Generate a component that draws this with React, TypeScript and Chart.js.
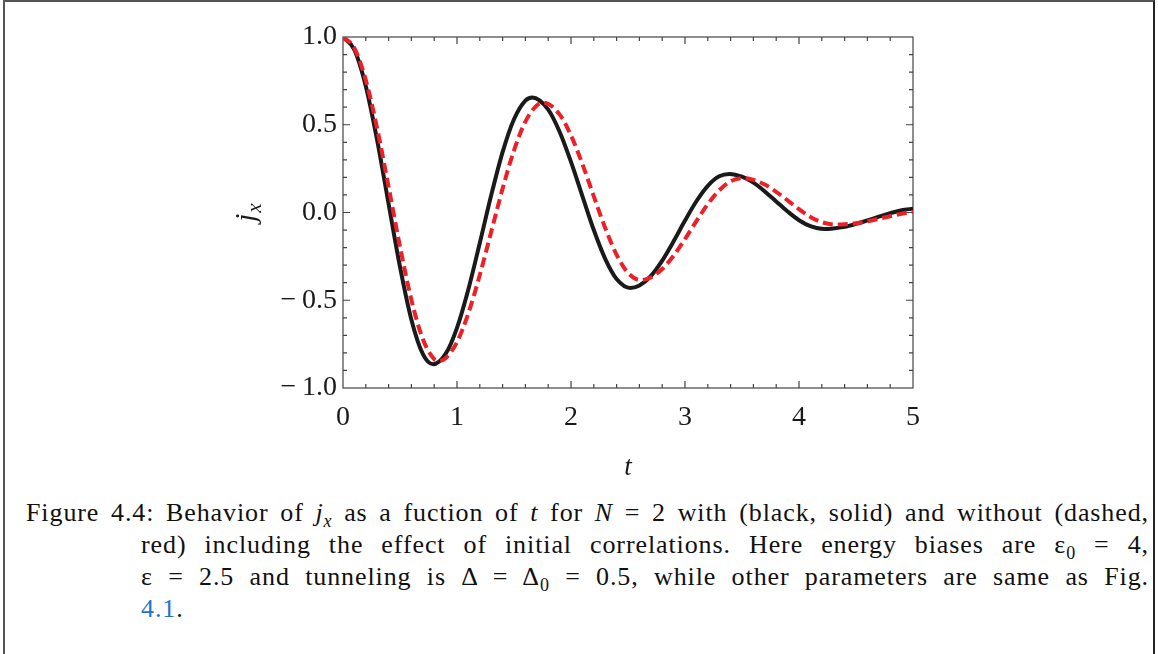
import React, { useEffect, useRef } from "react";
import { Chart, registerables } from "chart.js";

Chart.register(...registerables);

// time samples and values
const tSolid = [0, 0.1, 0.2, 0.3, 0.4, 0.5, 0.6, 0.7, 0.79, 0.9, 1.0, 1.1, 1.2, 1.3, 1.4, 1.5, 1.6, 1.66, 1.8, 1.9, 2.0, 2.1, 2.2, 2.3, 2.4, 2.52, 2.6, 2.7, 2.8, 2.9, 3.0, 3.1, 3.2, 3.3, 3.39, 3.5, 3.6, 3.7, 3.8, 3.9, 4.0, 4.1, 4.22, 4.3, 4.4, 4.5, 4.6, 4.7, 4.8, 4.9, 5.0];
const jSolid = [1.0, 0.927, 0.72, 0.411, 0.049, -0.31, -0.611, -0.806, -0.865, -0.806, -0.657, -0.437, -0.174, 0.098, 0.344, 0.531, 0.637, 0.655, 0.586, 0.46, 0.288, 0.093, -0.1, -0.264, -0.379, -0.43, -0.416, -0.362, -0.274, -0.164, -0.046, 0.064, 0.152, 0.206, 0.22, 0.204, 0.17, 0.12, 0.063, 0.006, -0.044, -0.078, -0.094, -0.091, -0.082, -0.065, -0.045, -0.024, -0.004, 0.013, 0.022];

const tDashed = [0, 0.1, 0.2, 0.3, 0.4, 0.5, 0.6, 0.7, 0.8, 0.84, 0.9, 1.0, 1.1, 1.2, 1.3, 1.4, 1.5, 1.6, 1.7, 1.76, 1.9, 2.0, 2.1, 2.2, 2.3, 2.4, 2.5, 2.61, 2.7, 2.8, 2.9, 3.0, 3.1, 3.2, 3.3, 3.4, 3.5, 3.6, 3.7, 3.8, 3.9, 4.0, 4.1, 4.2, 4.32, 4.4, 4.5, 4.6, 4.7, 4.8, 4.9, 5.0];
const jDashed = [1.0, 0.936, 0.754, 0.478, 0.146, -0.194, -0.498, -0.721, -0.835, -0.845, -0.83, -0.738, -0.574, -0.356, -0.11, 0.136, 0.354, 0.518, 0.61, 0.625, 0.559, 0.439, 0.276, 0.092, -0.088, -0.241, -0.344, -0.385, -0.37, -0.322, -0.246, -0.151, -0.049, 0.048, 0.126, 0.178, 0.196, 0.186, 0.159, 0.118, 0.069, 0.019, -0.025, -0.055, -0.069, -0.067, -0.061, -0.05, -0.036, -0.021, -0.007, 0.004];

const xTickValues = [0, 1, 2, 3, 4, 5];
const xTickLabels = ["0", "1", "2", "3", "4", "5"];
const yTickValues = [-1, -0.5, 0, 0.5, 1];
const yTickLabels = ["\u2212\u20091.0", "\u2212\u20090.5", "0.0", "0.5", "1.0"];

const SERIF = "'Liberation Serif', 'Times New Roman', serif";
const CW = 1158;
const CH = 490;

const framePlugin = {
  id: "frameTicks",
  beforeDatasetsDraw(chart: any) {
    const { ctx, chartArea } = chart;
    const xs = chart.scales.x;
    const ys = chart.scales.y;
    const { left, right, top, bottom } = chartArea;
    ctx.save();
    ctx.strokeStyle = "#444";
    ctx.lineWidth = 1.2;
    ctx.strokeRect(left, top, right - left, bottom - top);
    ctx.beginPath();
    for (let i = 1; i < 25; i++) {
      const px = xs.getPixelForValue(i * 0.2);
      const len = i % 5 === 0 ? 7 : 4;
      ctx.moveTo(px, bottom);
      ctx.lineTo(px, bottom - len);
      ctx.moveTo(px, top);
      ctx.lineTo(px, top + len);
    }
    for (let i = 1; i < 20; i++) {
      const py = ys.getPixelForValue(-1 + i * 0.1);
      const len = i % 5 === 0 ? 7 : 4;
      ctx.moveTo(left, py);
      ctx.lineTo(left + len, py);
      ctx.moveTo(right, py);
      ctx.lineTo(right - len, py);
    }
    ctx.stroke();
    ctx.restore();
  },
  afterDraw(chart: any) {
    const { ctx, chartArea } = chart;
    ctx.save();
    ctx.fillStyle = "#1a1a1a";
    ctx.font = `italic 27px ${SERIF}`;
    ctx.textAlign = "center";
    ctx.textBaseline = "alphabetic";
    ctx.fillText("t", (chartArea.left + chartArea.right) / 2, 475);
    ctx.translate(255, (chartArea.top + chartArea.bottom) / 2);
    ctx.rotate(-Math.PI / 2);
    ctx.textAlign = "left";
    ctx.font = `italic 29px ${SERIF}`;
    const jw = ctx.measureText("j").width;
    ctx.font = `italic 21px ${SERIF}`;
    const xw = ctx.measureText("x").width;
    const total = jw + 1 + xw;
    ctx.font = `italic 29px ${SERIF}`;
    ctx.fillText("j", -total / 2, 0);
    ctx.font = `italic 21px ${SERIF}`;
    ctx.fillText("x", -total / 2 + jw + 1, 6);
    ctx.restore();
  },
};

function JxChart() {
  const ref = useRef<HTMLCanvasElement | null>(null);
  useEffect(() => {
    if (!ref.current) return;
    const chart = new Chart(ref.current, {
      type: "line",
      data: {
        datasets: [
          {
            label: "without initial correlations",
            data: tDashed.map((t, i) => ({ x: t, y: jDashed[i] })),
            borderColor: "#ee1f26",
            borderWidth: 4,
            borderDash: [10, 5],
            pointRadius: 0,
            cubicInterpolationMode: "monotone",
            fill: false,
            clip: 0,
            order: 0,
          },
          {
            label: "with initial correlations",
            data: tSolid.map((t, i) => ({ x: t, y: jSolid[i] })),
            borderColor: "#1a1a1a",
            borderWidth: 4,
            pointRadius: 0,
            cubicInterpolationMode: "monotone",
            fill: false,
            clip: 0,
            order: 1,
          },
        ],
      },
      options: {
        responsive: false,
        animation: false,
        devicePixelRatio: 1,
        layout: { padding: { top: 37, right: CW - 913, left: 0, bottom: 0 } },
        plugins: { legend: { display: false }, tooltip: { enabled: false } },
        scales: {
          x: {
            type: "linear",
            min: 0,
            max: 5,
            afterFit: (s: any) => {
              s.height = CH - 388;
            },
            afterBuildTicks: (s: any) => {
              s.ticks = xTickValues.map((v) => ({ value: v }));
            },
            grid: { display: false, drawTicks: false },
            border: { display: false },
            ticks: {
              autoSkip: false,
              maxRotation: 0,
              padding: 13,
              color: "#1a1a1a",
              font: { family: SERIF, size: 28 },
              callback: (v: any) => xTickLabels[xTickValues.indexOf(Number(v))] ?? "",
            },
          },
          y: {
            type: "linear",
            min: -1,
            max: 1,
            afterFit: (s: any) => {
              s.width = 343;
            },
            afterBuildTicks: (s: any) => {
              s.ticks = yTickValues.map((v) => ({ value: v }));
            },
            grid: { display: false, drawTicks: false },
            border: { display: false },
            ticks: {
              autoSkip: false,
              padding: 6,
              color: "#1a1a1a",
              font: { family: SERIF, size: 28 },
              callback: (v: any) => yTickLabels[yTickValues.indexOf(Number(v))] ?? "",
            },
          },
        },
      },
      plugins: [framePlugin],
    });
    return () => chart.destroy();
  }, []);
  return (
    <canvas
      ref={ref}
      width={CW}
      height={CH}
      style={{ position: "absolute", left: 0, top: 0, width: CW, height: CH }}
    />
  );
}

const capLine: React.CSSProperties = {
  position: "absolute",
  fontFamily: SERIF,
  fontSize: 26,
  lineHeight: "32px",
  height: 32,
  color: "#111",
  whiteSpace: "nowrap",
  letterSpacing: "0.9px",
};
const justified: React.CSSProperties = {
  ...capLine,
  whiteSpace: "normal",
  textAlign: "justify",
  textAlignLast: "justify" as any,
};
const subS: React.CSSProperties = { fontSize: 18, lineHeight: 0 };

export default function App() {
  return (
    <div style={{ position: "absolute", left: 0, top: 0, width: CW, height: 654, overflow: "hidden", background: "#fff" }}>
      <div
        style={{
          position: "absolute",
          left: 3,
          top: 0,
          width: 1148,
          height: 700,
          borderTop: "2px solid #555",
          borderLeft: "2px solid #555",
          borderRight: "2px solid #222",
        }}
      />
      <JxChart />
      <div style={{ ...justified, left: 26, top: 497, width: 1123 }}>
        Figure 4.4: Behavior of <i>j</i><sub style={{ ...subS, fontStyle: "italic" }}>x</sub> as a fuction of <i>t</i> for <i>N</i> = 2 with (black, solid) and without (dashed,
      </div>
      <div style={{ ...justified, left: 141, top: 529, width: 1008 }}>
        red) including the effect of initial correlations. Here energy biases are ε<sub style={subS}>0</sub> = 4,
      </div>
      <div style={{ ...justified, left: 141, top: 561, width: 1008 }}>
        ε = 2.5 and tunneling is Δ = Δ<sub style={subS}>0</sub> = 0.5, while other parameters are same as Fig.
      </div>
      <div style={{ ...capLine, left: 141, top: 593 }}>
        <span style={{ color: "#1f75c4" }}>4.1</span>.
      </div>
    </div>
  );
}
